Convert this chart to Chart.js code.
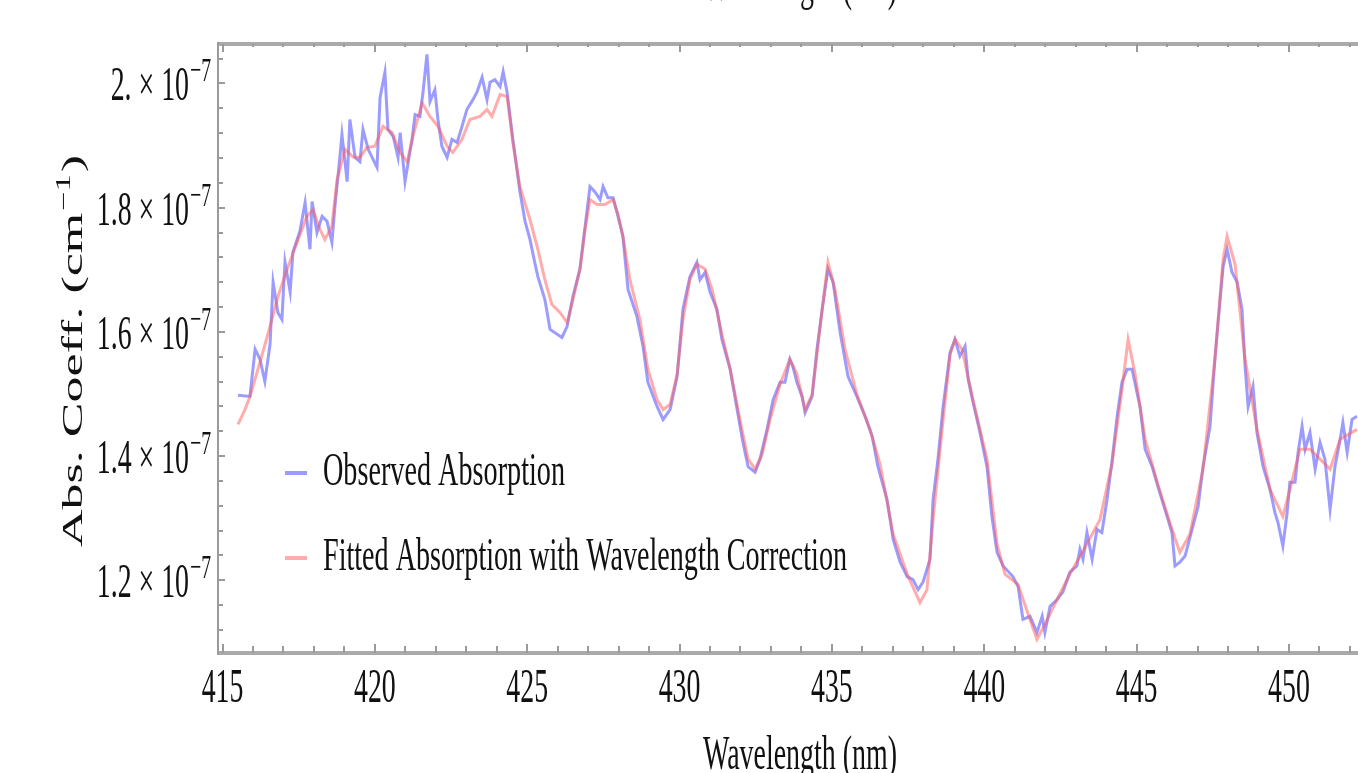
<!DOCTYPE html>
<html>
<head>
<meta charset="utf-8">
<title>Absorption fit</title>
<script src="https://cdn.jsdelivr.net/npm/chart.js@4.4.1/dist/chart.umd.min.js"></script>
<style>
    html, body { margin: 0; padding: 0; background: #fff; }
    canvas { display: block; }
</style>
</head>
<body>
<canvas id="absChart" width="1358" height="773"></canvas>
<script>
// Observed absorption (wavelength in nm, coefficient in units of 1e-7 cm^-1)
const obsWavelength = [
    415.51, 415.90, 416.07, 416.23, 416.39, 416.56, 416.66, 416.82, 416.95, 417.05,
    417.22, 417.31, 417.54, 417.71, 417.87, 417.94, 418.10, 418.27, 418.43, 418.59,
    418.69, 418.86, 418.92, 419.09, 419.18, 419.35, 419.51, 419.61, 419.78, 420.07,
    420.17, 420.33, 420.43, 420.60, 420.76, 420.83, 420.99, 421.22, 421.32, 421.48,
    421.58, 421.71, 421.81, 421.97, 422.07, 422.20, 422.37, 422.53, 422.70, 422.86,
    423.02, 423.22, 423.35, 423.52, 423.68, 423.78, 423.94, 424.11, 424.21, 424.34,
    424.53, 424.76, 424.93, 425.09, 425.26, 425.35, 425.58, 425.75, 426.14, 426.31,
    426.50, 426.73, 426.90, 427.06, 427.23, 427.39, 427.49, 427.65, 427.82, 427.98,
    428.14, 428.31, 428.60, 428.80, 428.96, 429.26, 429.46, 429.69, 429.92, 430.11,
    430.34, 430.57, 430.67, 430.84, 431.00, 431.23, 431.39, 431.66, 431.89, 432.08,
    432.25, 432.48, 432.64, 432.87, 433.07, 433.30, 433.46, 433.62, 433.72, 433.85,
    434.02, 434.12, 434.35, 434.51, 434.68, 434.87, 435.04, 435.27, 435.53, 435.82,
    436.09, 436.32, 436.51, 436.81, 437.01, 437.24, 437.47, 437.66, 437.83, 437.99,
    438.22, 438.32, 438.48, 438.65, 438.88, 439.04, 439.20, 439.37, 439.47, 439.63,
    439.86, 440.09, 440.25, 440.42, 440.62, 440.94, 441.11, 441.27, 441.50, 441.73,
    441.90, 441.99, 442.16, 442.39, 442.58, 442.81, 443.04, 443.14, 443.24, 443.37,
    443.54, 443.70, 443.86, 444.03, 444.19, 444.36, 444.52, 444.69, 444.85, 445.01,
    445.11, 445.28, 445.51, 445.70, 445.83, 446.00, 446.16, 446.26, 446.42, 446.59,
    446.82, 447.02, 447.18, 447.41, 447.57, 447.74, 447.84, 447.97, 448.13, 448.30,
    448.46, 448.56, 448.66, 448.82, 448.95, 449.15, 449.38, 449.54, 449.64, 449.80,
    449.94, 450.03, 450.20, 450.30, 450.43, 450.53, 450.69, 450.86, 451.02, 451.18,
    451.35, 451.51, 451.68, 451.77, 451.91, 452.07, 452.23
];
const obsAbs = [
    1.498, 1.496, 1.572, 1.556, 1.520, 1.580, 1.680, 1.631, 1.620, 1.713,
    1.664, 1.728, 1.762, 1.808, 1.733, 1.810, 1.760, 1.786, 1.778, 1.744,
    1.802, 1.886, 1.918, 1.842, 1.942, 1.881, 1.874, 1.926, 1.894, 1.865,
    1.977, 2.018, 1.926, 1.915, 1.881, 1.921, 1.842, 1.910, 1.950, 1.947,
    1.986, 2.047, 1.971, 1.990, 1.942, 1.899, 1.881, 1.910, 1.905, 1.931,
    1.958, 1.974, 1.986, 2.010, 1.974, 2.002, 2.006, 1.995, 2.019, 1.986,
    1.910, 1.826, 1.778, 1.749, 1.709, 1.689, 1.652, 1.604, 1.591, 1.609,
    1.657, 1.701, 1.770, 1.834, 1.825, 1.813, 1.834, 1.816, 1.816, 1.786,
    1.754, 1.668, 1.625, 1.577, 1.519, 1.480, 1.459, 1.475, 1.528, 1.636,
    1.689, 1.712, 1.684, 1.696, 1.664, 1.636, 1.588, 1.540, 1.475, 1.422,
    1.383, 1.374, 1.395, 1.443, 1.491, 1.519, 1.519, 1.556, 1.544, 1.519,
    1.496, 1.470, 1.496, 1.572, 1.636, 1.701, 1.680, 1.599, 1.528, 1.496,
    1.464, 1.432, 1.383, 1.330, 1.266, 1.229, 1.206, 1.201, 1.185, 1.197,
    1.234, 1.330, 1.395, 1.480, 1.567, 1.588, 1.561, 1.577, 1.524, 1.487,
    1.438, 1.383, 1.303, 1.245, 1.223, 1.206, 1.190, 1.137, 1.142, 1.116,
    1.142, 1.116, 1.158, 1.169, 1.181, 1.213, 1.223, 1.250, 1.234, 1.277,
    1.234, 1.282, 1.277, 1.330, 1.390, 1.464, 1.519, 1.540, 1.540, 1.503,
    1.480, 1.411, 1.383, 1.351, 1.330, 1.303, 1.277, 1.223, 1.229, 1.239,
    1.282, 1.319, 1.383, 1.448, 1.556, 1.652, 1.705, 1.733, 1.696, 1.680,
    1.636, 1.544, 1.480, 1.512, 1.438, 1.383, 1.346, 1.309, 1.293, 1.255,
    1.309, 1.358, 1.358, 1.406, 1.448, 1.411, 1.438, 1.379, 1.422, 1.395,
    1.314, 1.383, 1.427, 1.454, 1.406, 1.459, 1.464
];

// Fitted absorption with wavelength correction
const fitWavelength = [
    415.51, 415.74, 415.90, 416.23, 416.56, 416.82, 417.15, 417.48, 417.77, 417.97,
    418.20, 418.36, 418.59, 418.76, 419.02, 419.28, 419.51, 419.74, 420.00, 420.27,
    420.56, 420.83, 421.06, 421.25, 421.55, 421.81, 422.07, 422.37, 422.56, 422.86,
    423.12, 423.45, 423.68, 423.84, 424.11, 424.34, 424.53, 424.76, 425.09, 425.35,
    425.58, 425.81, 426.08, 426.31, 426.50, 426.73, 426.90, 427.06, 427.29, 427.55,
    427.82, 427.98, 428.14, 428.37, 428.70, 428.96, 429.26, 429.46, 429.69, 429.92,
    430.11, 430.34, 430.57, 430.84, 431.07, 431.39, 431.66, 431.98, 432.25, 432.48,
    432.71, 432.97, 433.30, 433.62, 433.85, 434.12, 434.35, 434.51, 434.68, 434.87,
    435.10, 435.43, 435.82, 436.25, 436.58, 437.01, 437.47, 437.89, 438.12, 438.32,
    438.65, 438.88, 439.04, 439.27, 439.63, 440.09, 440.42, 440.68, 441.11, 441.50,
    441.73, 441.99, 442.39, 442.81, 443.31, 443.80, 444.19, 444.52, 444.72, 444.95,
    445.28, 445.70, 446.16, 446.42, 446.75, 447.18, 447.57, 447.84, 447.97, 448.23,
    448.56, 448.95, 449.38, 449.80, 450.03, 450.36, 450.69, 451.02, 451.35, 451.68,
    452.23
];
const fitAbs = [
    1.451, 1.475, 1.496, 1.551, 1.609, 1.657, 1.705, 1.749, 1.786, 1.797,
    1.765, 1.749, 1.770, 1.845, 1.894, 1.882, 1.881, 1.897, 1.899, 1.931,
    1.921, 1.889, 1.874, 1.915, 1.969, 1.947, 1.931, 1.899, 1.889, 1.910,
    1.942, 1.947, 1.958, 1.947, 1.982, 1.979, 1.905, 1.834, 1.781, 1.733,
    1.684, 1.644, 1.631, 1.615, 1.652, 1.701, 1.765, 1.813, 1.805, 1.805,
    1.813, 1.789, 1.754, 1.684, 1.620, 1.540, 1.491, 1.475, 1.483, 1.532,
    1.620, 1.684, 1.709, 1.701, 1.668, 1.596, 1.540, 1.459, 1.395, 1.379,
    1.403, 1.459, 1.516, 1.556, 1.532, 1.475, 1.499, 1.564, 1.636, 1.712,
    1.668, 1.572, 1.499, 1.443, 1.387, 1.274, 1.210, 1.164, 1.185, 1.298,
    1.459, 1.564, 1.588, 1.572, 1.491, 1.395, 1.258, 1.210, 1.193, 1.137,
    1.105, 1.129, 1.169, 1.210, 1.253, 1.298, 1.387, 1.507, 1.588, 1.532,
    1.427, 1.354, 1.282, 1.245, 1.274, 1.379, 1.556, 1.717, 1.754, 1.709,
    1.556, 1.443, 1.346, 1.303, 1.346, 1.411, 1.411, 1.395, 1.379, 1.427,
    1.443
];

// Labelled ticks
const xTickValues = [415, 420, 425, 430, 435, 440, 445, 450];
const yTickValues = [1.2, 1.4, 1.6, 1.8, 2.0];

const seriesNames = ['Observed Absorption', 'Fitted Absorption with Wavelength Correction'];
const OBS_COLOR = 'rgba(90, 90, 255, 0.6)';
const FIT_COLOR = 'rgba(255, 90, 90, 0.5)';
const FONT = '"Liberation Serif", "Times New Roman", serif';
const SQUEEZE = 0.58;

// Draw text squeezed horizontally (the original figure is stretched)
function squeezedText(ctx, str, x, y, size, sx, align) {
    ctx.save();
    ctx.font = size + 'px ' + FONT;
    const w = ctx.measureText(str).width * sx;
    let x0 = x;
    if (align === 'center') x0 = x - w / 2;
    if (align === 'right') x0 = x - w;
    ctx.translate(x0, y);
    ctx.scale(sx, 1);
    ctx.textAlign = 'left';
    ctx.textBaseline = 'alphabetic';
    ctx.fillText(str, 0, 0);
    ctx.restore();
    return w;
}

function textWidth(ctx, str, size) {
    ctx.save();
    ctx.font = size + 'px ' + FONT;
    const w = ctx.measureText(str).width;
    ctx.restore();
    return w;
}

function fitText(ctx, str, x, y, size, width, align) {
    const sx = width / textWidth(ctx, str, size);
    return squeezedText(ctx, str, x, y, size, sx, align);
}

const isMultiple = (v, step) => Math.abs(v / step - Math.round(v / step)) < 1e-6;

// Frame, inward ticks, labels and legend, Mathematica style
const framePlugin = {
    id: 'framePlugin',
    afterDraw(chart) {
        const { ctx, chartArea: area, scales: { x, y } } = chart;
        ctx.save();

        // frame
        ctx.fillStyle = '#aaaaaa';
        ctx.fillRect(area.left, area.top - 2, area.right - area.left, 4);
        ctx.fillRect(area.left, area.bottom - 2, area.right - area.left, 4);
        ctx.fillStyle = '#9a9a9a';
        ctx.fillRect(area.left - 1, area.top - 2, 2, area.bottom - area.top + 4);

        // x ticks (bottom and top)
        x.ticks.forEach(t => {
            const px = Math.round(x.getPixelForValue(t.value));
            const major = isMultiple(t.value, 5);
            ctx.fillRect(px - 1, area.bottom - (major ? 9 : 7), 2, major ? 9 : 7);
            ctx.fillRect(px - 1, area.top, 2, major ? 8 : 3);
        });
        // y ticks (left)
        y.ticks.forEach(t => {
            const py = Math.round(y.getPixelForValue(t.value));
            const major = isMultiple(t.value, 0.2);
            ctx.fillRect(area.left, py - 1, major ? 7 : 5, 2);
        });

        ctx.fillStyle = '#111111';
        // x tick labels
        xTickValues.forEach(v => {
            squeezedText(ctx, String(v), x.getPixelForValue(v), area.bottom + 49, 48, SQUEEZE, 'center');
        });
        // y tick labels: "1.8 × 10^-7"
        yTickValues.forEach(v => {
            const py = y.getPixelForValue(v);
            const main = (v === 2 ? '2.' : v.toFixed(1)) + ' \u00d7 10';
            const sup = '\u22127';
            const wMain = textWidth(ctx, main, 48) * SQUEEZE;
            const wSup = textWidth(ctx, sup, 34) * SQUEEZE;
            const x0 = 210 - wMain - wSup;
            squeezedText(ctx, main, x0, py + 17, 48, SQUEEZE, 'left');
            squeezedText(ctx, sup, x0 + wMain + 1, py - 2, 34, SQUEEZE, 'left');
        });

        // axis titles
        fitText(ctx, 'Wavelength (nm)', 800, 769, 48, 194, 'center');
        fitText(ctx, 'Wavelength (nm)', 800, 0, 48, 194, 'center');

        // rotated y title: Abs. Coeff. (cm^-1)
        const yMain = 'Abs. Coeff. (cm';
        const ySup = '\u22121';
        const w1 = textWidth(ctx, yMain, 30);
        const w2 = textWidth(ctx, ySup, 20);
        const w3 = textWidth(ctx, ')', 30);
        const s = 392 / (w1 + w2 + w3 + 2);
        ctx.save();
        ctx.translate(82, 547);
        ctx.rotate(-Math.PI / 2);
        ctx.scale(s, 1);
        ctx.textBaseline = 'alphabetic';
        ctx.font = '30px ' + FONT;
        ctx.fillText(yMain, 0, 0);
        ctx.font = '20px ' + FONT;
        ctx.fillText(ySup, w1 + 1, -12);
        ctx.font = '30px ' + FONT;
        ctx.fillText(')', w1 + w2 + 2, 0);
        ctx.restore();

        // legend
        ctx.fillStyle = OBS_COLOR;
        ctx.fillRect(285, 471, 22, 4);
        ctx.fillStyle = FIT_COLOR;
        ctx.fillRect(285, 556, 22, 4);
        ctx.fillStyle = '#111111';
        fitText(ctx, seriesNames[0], 323, 485, 47, 242, 'left');
        fitText(ctx, seriesNames[1], 323, 570, 47, 524, 'left');

        ctx.restore();
    }
};

new Chart(document.getElementById('absChart'), {
    type: 'line',
    data: {
        datasets: [
            {
                label: seriesNames[0],
                data: obsWavelength.map((w, i) => ({ x: w, y: obsAbs[i] })),
                borderColor: OBS_COLOR,
                borderWidth: 3,
                pointRadius: 0,
                tension: 0,
                order: 1
            },
            {
                label: seriesNames[1],
                data: fitWavelength.map((w, i) => ({ x: w, y: fitAbs[i] })),
                borderColor: FIT_COLOR,
                borderWidth: 3,
                pointRadius: 0,
                tension: 0,
                order: 0
            }
        ]
    },
    options: {
        responsive: false,
        devicePixelRatio: 1,
        animation: false,
        layout: { padding: { top: 44, left: 0, right: 0, bottom: 0 } },
        plugins: {
            legend: { display: false },
            tooltip: { enabled: false }
        },
        scales: {
            x: {
                type: 'linear',
                min: 414.852,
                max: 452.266,
                ticks: { display: false, stepSize: 1, includeBounds: false },
                grid: { display: false },
                border: { display: false },
                afterFit: (scale) => { scale.height = 120; }
            },
            y: {
                type: 'linear',
                min: 1.0829,
                max: 2.0636,
                ticks: { display: false, stepSize: 0.04, includeBounds: false },
                grid: { display: false },
                border: { display: false },
                afterFit: (scale) => { scale.width = 218; }
            }
        }
    },
    plugins: [framePlugin]
});
</script>
</body>
</html>
